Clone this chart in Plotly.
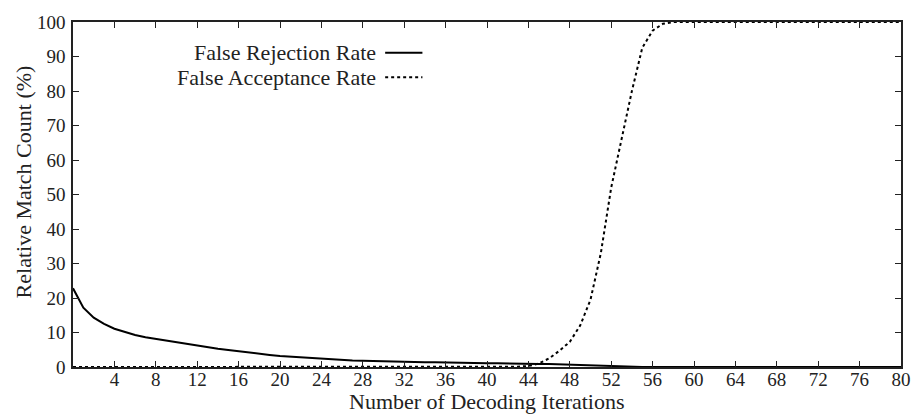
import plotly.graph_objects as go

iterations = list(range(0, 81))
frr_vals = [22.8, 17.2, 14.3, 12.5, 11.1, 10.1, 9.3, 8.6, 8.1, 7.6, 7.1, 6.7, 6.2, 5.8, 5.3, 4.9,
            4.5, 4.2, 3.9, 3.5, 3.2, 3.0, 2.7, 2.5, 2.3, 2.2, 2.0, 1.9, 1.8, 1.7, 1.6, 1.6,
            1.5, 1.5, 1.4, 1.4, 1.3, 1.3, 1.2, 1.2, 1.1, 1.1, 1.0, 1.0, 1.0, 0.9, 0.9, 0.8,
            0.7, 0.6, 0.5, 0.3, 0.1] + [0.0] * 28
far_vals = [0.0] * 43 + [0.1, 0.3, 1.0, 2.5, 4.7, 7.3, 12.0, 19.5, 33.0, 52.0, 66.0, 80.0,
                         92.5, 97.5, 99.5, 100.0] + [100.0] * 22
x_ticks = list(range(4, 81, 4))
y_ticks = list(range(0, 101, 10))
legend_names = ["False Rejection Rate", "False Acceptance Rate"]
x_title = "Number of Decoding Iterations"
y_title = "Relative Match Count (%)"

font_family = "Liberation Serif"
txt_color = "#222"

fig = go.Figure()
fig.add_trace(go.Scatter(x=iterations, y=far_vals, mode="lines",
                         line=dict(color="black", width=2, dash="dot"),
                         name=legend_names[1], showlegend=False))
fig.add_trace(go.Scatter(x=iterations, y=frr_vals, mode="lines",
                         line=dict(color="black", width=2),
                         name=legend_names[0], showlegend=False))

# gnuplot-style legend: right-aligned text with the line sample to its right
leg_y = [0.911, 0.84]
leg_styles = ["solid", "dot"]
for name, yy, st in zip(legend_names, leg_y, leg_styles):
    fig.add_annotation(xref="paper", yref="paper", x=0.368, y=yy, text=name,
                       showarrow=False, xanchor="right", yanchor="middle",
                       font=dict(family=font_family, size=22, color=txt_color))
    fig.add_shape(type="line", xref="paper", yref="paper", x0=0.377, x1=0.422, y0=yy, y1=yy,
                  line=dict(color="black", width=2, dash=st))

# axis titles placed like gnuplot's labels
fig.add_annotation(xref="paper", yref="paper", x=0.5, y=-0.101, text=x_title,
                   showarrow=False, xanchor="center", yanchor="middle",
                   font=dict(family=font_family, size=22, color=txt_color))
fig.add_annotation(xref="paper", yref="paper", x=-0.0596, y=0.537, text=y_title,
                   showarrow=False, xanchor="center", yanchor="middle", textangle=-90,
                   font=dict(family=font_family, size=22, color=txt_color))

axis_common = dict(showline=True, linecolor="#222", linewidth=1.5, mirror="ticks",
                   ticks="inside", ticklen=6, tickcolor="#222", showgrid=False, zeroline=False,
                   automargin=False,
                   tickfont=dict(family=font_family, size=19, color=txt_color))
fig.update_xaxes(range=[0, 80], tickvals=x_ticks, ticklabelstandoff=-6, **axis_common)
fig.update_yaxes(range=[0, 100], tickvals=y_ticks, ticklabelstandoff=2, **axis_common)
fig.update_layout(width=914, height=414, margin=dict(l=73, r=13, t=22, b=47),
                  plot_bgcolor="white", paper_bgcolor="white")
fig.write_html("out.html", config={"displayModeBar": False},
               post_script="document.body.style.margin='0';")
